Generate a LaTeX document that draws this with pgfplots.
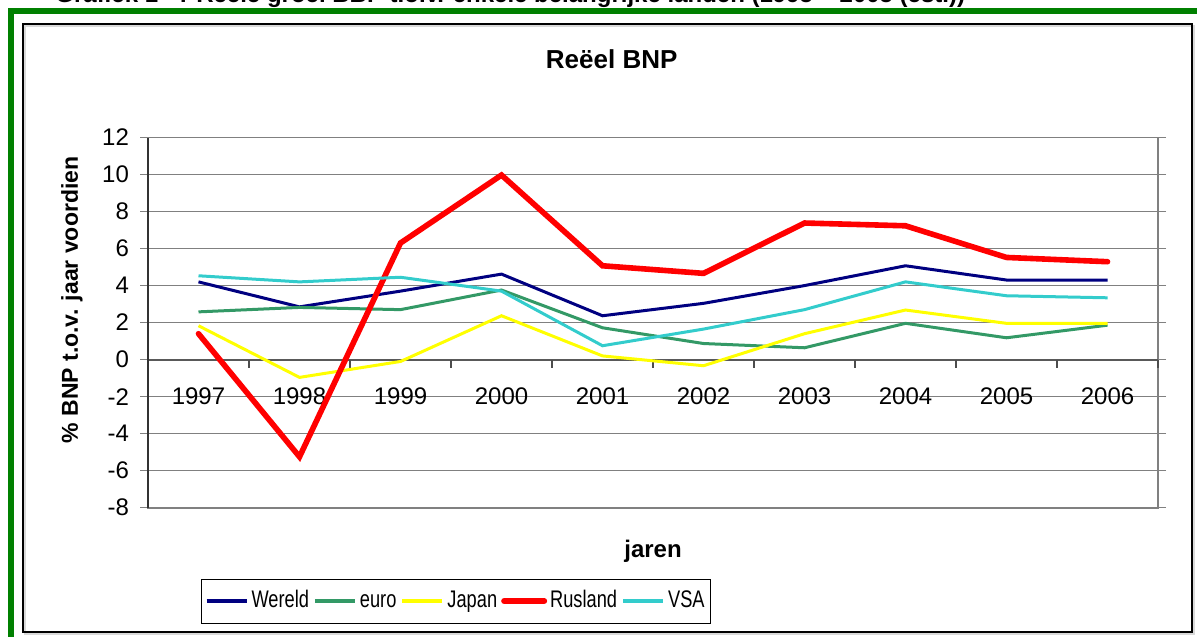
\documentclass[border=0pt]{standalone}
\usepackage{pgfplots}
\pgfplotsset{compat=1.18}
\usepackage{fontspec}
\setmainfont{Liberation Sans}
\newfontfamily\narrowfont[FakeStretch=0.76]{Liberation Sans}
\definecolor{frgreen}{HTML}{008000}
\definecolor{cwereld}{HTML}{000080}
\definecolor{ceuro}{HTML}{339966}
\definecolor{cjapan}{HTML}{FFFF00}
\definecolor{crus}{HTML}{FF0000}
\definecolor{cvsa}{HTML}{33CCCC}
\definecolor{gridgray}{HTML}{808080}

\pgfplotstableread{
x  wereld euro  japan  rus    vsa
0  4.20   2.58  1.83   1.40   4.53
1  2.85   2.82  -0.96  -5.25  4.20
2  3.70   2.70  -0.10  6.30   4.45
3  4.62   3.76  2.37   9.97   3.70
4  2.37   1.72  0.20   5.07   0.75
5  3.04   0.87  -0.33  4.66   1.65
6  4.00   0.64  1.40   7.38   2.70
7  5.07   1.96  2.68   7.23   4.20
8  4.30   1.18  1.96   5.52   3.45
9  4.30   1.86  1.96   5.29   3.34
}\gdp

\begin{document}
\begin{tikzpicture}
% outer frames
\fill[frgreen] (4pt,311.5pt) rectangle (598.5pt,314.5pt);
\fill[frgreen] (4pt,0pt) rectangle (7pt,314.5pt);
\draw[black!15, line width=1pt] (12.25pt,1.5pt) rectangle (597pt,305.5pt);
\draw[black, line width=1pt] (11.25pt,2.5pt) rectangle (596pt,306.5pt);
% clipped document caption
\node[anchor=base west, inner sep=0pt, font=\bfseries\fontsize{12}{14}\selectfont] at (27.5pt,317pt)
  {Grafiek 1 - : Reële groei BBP t.o.v. enkele belangrijke landen (1995 – 2005 (est.))};

\begin{axis}[
  at={(74pt,64.65pt)}, anchor=south west,
  scale only axis, width=505pt, height=185.1pt,
  xmin=-0.5, xmax=9.5, ymin=-8, ymax=12,
  xtick={0,...,9},
  xticklabels={1997,1998,1999,2000,2001,2002,2003,2004,2005,2006},
  x tick label style={anchor=center, yshift=59.5pt},
  x tick style={draw=none},
  ytick={-8,-6,...,12},
  yticklabels={-8,-6,-4,-2,0,2,4,6,8,10,12},
  tick align=outside, major tick length=4pt,
  y tick style={gridgray, line width=0.6pt},
  y tick label style={xshift=-2pt},
  ticklabel style={font=\fontsize{12}{14}\selectfont},
  ymajorgrids, grid style={gridgray, line width=0.6pt},
  axis line style={gridgray, line width=0.9pt},
  legend columns=5,
  legend style={at={(0.305,-0.252)}, anchor=center, draw=black,
    font=\narrowfont\fontsize{12}{14}\selectfont, inner xsep=1.5pt, inner ysep=4pt,
    nodes={text height=1.6ex, text depth=0.3ex, inner xsep=1.5pt},
    /tikz/every even column/.append style={column sep=0.5pt}},
  legend image code/.code={\draw[#1] (0pt,0pt) -- (20pt,0pt);},
  clip=false,
]
\draw[black!65, line width=0.9pt] (axis cs:-0.5,0) -- (axis cs:9.5,0);
\draw[black!80, line width=0.9pt] (axis cs:-0.5,-8) -- (axis cs:-0.5,12);
\pgfplotsinvokeforeach{0.5,1.5,2.5,3.5,4.5,5.5,6.5,7.5,8.5,9.5}{
  \draw[black!70, line width=0.6pt] (axis cs:#1,0) -- (axis cs:#1,-0.43);
}
\addplot[cwereld, line width=1.5pt, legend image post style={line width=2pt}] table[x=x, y=wereld] {\gdp};
\addlegendentry{Wereld}
\addplot[ceuro, line width=1.5pt, legend image post style={line width=2pt}] table[x=x, y=euro] {\gdp};
\addlegendentry{euro}
\addplot[cjapan, line width=1.5pt, legend image post style={line width=2pt}] table[x=x, y=japan] {\gdp};
\addlegendentry{Japan}
\addplot[crus, line width=2.8pt, line cap=round, legend image post style={line width=3pt}] table[x=x, y=rus] {\gdp};
\addlegendentry{Rusland}
\addplot[cvsa, line width=1.5pt, legend image post style={line width=2pt}] table[x=x, y=vsa] {\gdp};
\addlegendentry{VSA}
\end{axis}

\node[font=\bfseries\fontsize{13}{15}\selectfont] at (305.85pt,289pt) {Reëel BNP};
\node[rotate=90, font=\bfseries\fontsize{11.5}{13}\selectfont] at (36pt,168.5pt) {\% BNP t.o.v. jaar voordien};
\node[font=\bfseries\fontsize{12}{14}\selectfont] at (326.5pt,42.65pt) {jaren};

\pgfresetboundingbox
\useasboundingbox (0pt,0pt) rectangle (598.5pt,318.5pt);
\end{tikzpicture}
\end{document}
